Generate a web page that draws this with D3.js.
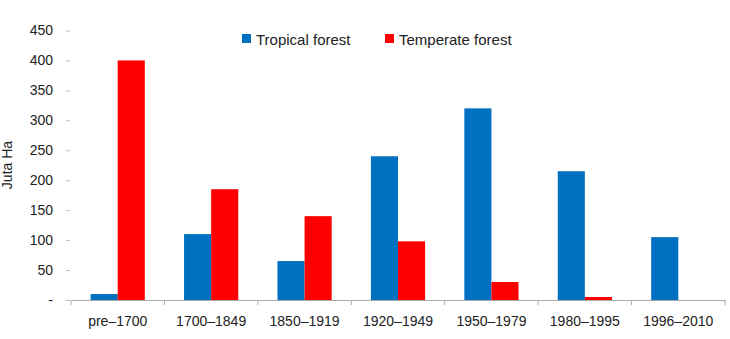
<!DOCTYPE html>
<html><head><meta charset="utf-8">
<script src="https://cdn.jsdelivr.net/npm/d3@7/dist/d3.min.js"></script>
<style>body{margin:0;background:#fff}svg{display:block}text{font-family:"Liberation Sans",Arial,sans-serif;fill:#222}</style>
</head><body>
<svg id="c" width="730" height="339"></svg>
<script>
const categories = ["pre\u20131700","1700\u20131849","1850\u20131919","1920\u20131949","1950\u20131979","1980\u20131995","1996\u20132010"];
const tropical = [10,110,65,240,320,215,105];
const temperate = [400,185,140,98,30,5,0];
const seriesNames = ["Tropical forest","Temperate forest"];
const colors = ["#0070C0","#FF0000"];
const yTicks = [0,50,100,150,200,250,300,350,400,450];

const svg = d3.select("#c");
const m = {l:71, r:5, t:30.5, b:39};
const W = 730, H = 339;
const x = d3.scaleBand().domain(categories).range([m.l, W - m.r]).paddingInner(0).paddingOuter(0);
const y = d3.scaleLinear().domain([0,450]).range([H - m.b, m.t]);
const x1 = d3.scaleBand().domain([0,1]).range([x.bandwidth()*0.21, x.bandwidth()*0.79]).padding(0);

// y axis (no domain line)
const ya = svg.append("g").attr("transform",`translate(${m.l},0)`)
  .call(d3.axisLeft(y).tickValues(yTicks).tickSize(4).tickPadding(14).tickFormat(d => d===0 ? "-" : d));
ya.select(".domain").remove();
ya.selectAll(".tick line").attr("stroke","#bbb").attr("transform","translate(-1,0)");
ya.selectAll("text").style("font-size","14px").attr("fill","#222");

// bars
const data = categories.map((c,i)=>({c, v:[tropical[i], temperate[i]]}));
const g = svg.append("g");
g.selectAll("g.grp").data(data).join("g").attr("transform", d=>`translate(${x(d.c)},0)`)
  .selectAll("rect").data(d=>d.v.map((v,k)=>({v,k}))).join("rect")
  .attr("x", d=>x1(d.k)).attr("width", x1.bandwidth())
  .attr("y", d=>y(d.v)).attr("height", d=>y(0)-y(d.v))
  .attr("fill", d=>colors[d.k]);

// x axis
const xa = svg.append("g").attr("transform",`translate(0,${y(0)})`)
  .call(d3.axisBottom(x).tickSize(0).tickPadding(16));
xa.select(".domain").attr("stroke","#aaa");
xa.selectAll("text").style("font-size","14px").attr("fill","#222");
const bounds = categories.map(c=>x(c)).concat([x(categories[categories.length-1])+x.bandwidth()]);
xa.selectAll("line.bt").data(bounds).join("line").attr("class","bt")
  .attr("x1",d=>d).attr("x2",d=>d).attr("y1",0).attr("y2",5).attr("stroke","#aaa");

// y title
svg.append("text").attr("transform",`translate(12,165) rotate(-90)`).attr("text-anchor","middle")
  .style("font-size","14px").text("Juta Ha");

// legend
const lx = [242, 385];
const lg = svg.append("g");
seriesNames.forEach((n,i)=>{
  lg.append("rect").attr("x",lx[i]).attr("y",34).attr("width",9).attr("height",9).attr("fill",colors[i]);
  lg.append("text").attr("x",lx[i]+14).attr("y",44.5).style("font-size","15px").text(n);
});
</script>
</body></html>
